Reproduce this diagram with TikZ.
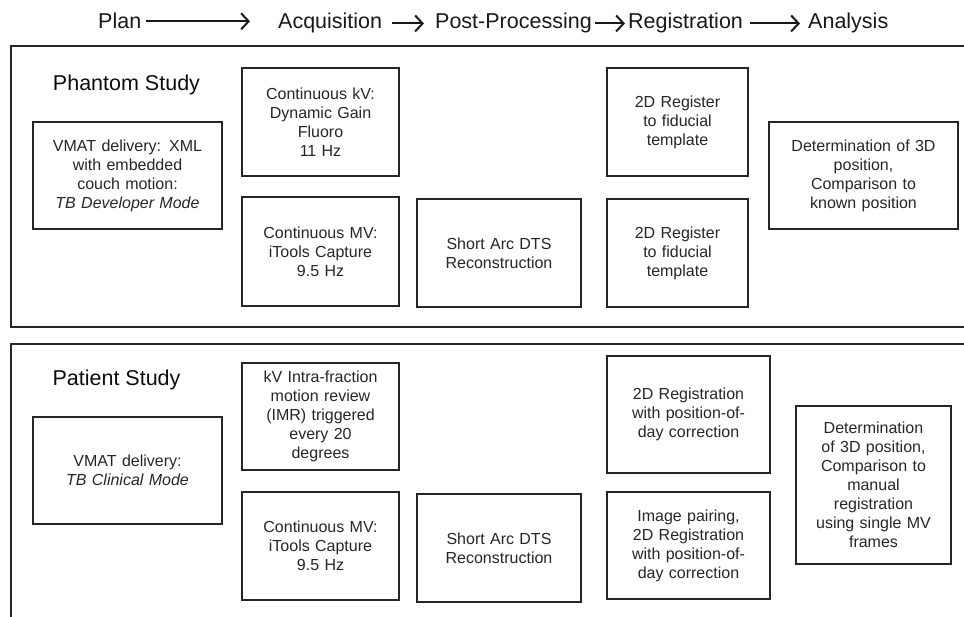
\documentclass[tikz,border=0pt]{standalone}
\usepackage{fontspec}
\setmainfont{Liberation Sans}
\usetikzlibrary{arrows.meta}
\begin{document}
\begin{tikzpicture}[x=1pt,y=-1pt,
  bx/.style={draw=black!85, line width=1.4pt, align=center, inner sep=2pt,
     text=black!85, font=\fontsize{16}{19}\selectfont},
  hdr/.style={anchor=base west, inner sep=0pt, text=black!90,
     font=\fontsize{21.5}{24}\selectfont},
  ttl/.style={inner sep=0pt, text=black!95, font=\fontsize{21.5}{24}\selectfont},
  outer/.style={draw=black!85, line width=2pt},
  harrow/.style={draw=black!90, line width=2pt, -{Straight Barb[length=7.5pt,width=16pt]}}
]
\useasboundingbox (0,0) rectangle (964,616);

% header
\node[hdr] (plan) at (98,28) {Plan};
\node[hdr] (acq) at (278,28) {Acquisition};
\node[hdr] (post) at (435,28) {Post-Processing};
\node[hdr] (reg) at (628,28) {Registration};
\node[hdr] (ana) at (808,28) {Analysis};
\draw[harrow, shorten <=5pt, shorten >=28pt] ([yshift=-1pt]plan.east) -- ([yshift=-1pt]plan.east -| acq.west);
\draw[harrow, shorten <=10pt, shorten >=11pt] ([yshift=-1pt]acq.east) -- ([yshift=-1pt]acq.east -| post.west);
\draw[harrow, shorten <=3pt, shorten >=3pt] ([yshift=-1pt]post.east) -- ([yshift=-1pt]post.east -| reg.west);
\draw[harrow, shorten <=7pt, shorten >=8pt] ([yshift=-1pt]reg.east) -- ([yshift=-1pt]reg.east -| ana.west);

% outer frames
\draw[outer] (11,46) rectangle (970,327);
\draw[outer] (11,344) rectangle (970,630);

% Phantom study
\node[ttl] (ptitle) at (126.5,85) {Phantom Study};
\node[bx, minimum width=189pt, minimum height=107pt, text width=180pt] (pplan) at (127.5,175.5)
  {VMAT delivery: XML\\ with embedded\\ couch motion:\\ \textit{TB Developer Mode}};
\node[bx, minimum width=157pt, minimum height=108pt, text width=150pt] (pkv) at (320.5,122)
  {Continuous kV:\\ Dynamic Gain\\ Fluoro\\ 11 Hz};
\node[bx, minimum width=157pt, minimum height=109pt, text width=150pt] (pmv) at (320.5,251.5)
  {Continuous MV:\\ iTools Capture\\ 9.5 Hz};
\node[bx, minimum width=164pt, minimum height=108pt, text width=156pt] (pdts) at (499,253)
  {Short Arc DTS\\ Reconstruction};
\node[bx, minimum width=141pt, minimum height=108pt, text width=134pt] (preg1) at (677.5,122)
  {2D Register\\ to fiducial\\ template};
\node[bx, minimum width=141pt, minimum height=108pt, text width=134pt] (preg2) at (677.5,253)
  {2D Register\\ to fiducial\\ template};
\node[bx, minimum width=189pt, minimum height=107pt, text width=180pt] (pana) at (863.5,175.5)
  {Determination of 3D\\ position,\\ Comparison to\\ known position};

% Patient study
\node[ttl] (qtitle) at (116.5,380) {Patient Study};
\node[bx, minimum width=189pt, minimum height=107pt, text width=180pt] (qplan) at (127.5,470.5)
  {VMAT delivery:\\ \textit{TB Clinical Mode}};
\node[bx, minimum width=157pt, minimum height=107pt, text width=150pt] (qkv) at (320.5,416.5)
  {kV Intra-fraction\\ motion review\\ (IMR) triggered\\ every 20\\ degrees};
\node[bx, minimum width=157pt, minimum height=108pt, text width=150pt] (qmv) at (320.5,546)
  {Continuous MV:\\ iTools Capture\\ 9.5 Hz};
\node[bx, minimum width=164pt, minimum height=108pt, text width=156pt] (qdts) at (499,548)
  {Short Arc DTS\\ Reconstruction};
\node[bx, minimum width=163pt, minimum height=117pt, text width=156pt] (qreg1) at (688.5,414.5)
  {2D Registration\\ with position-of-\\ day correction};
\node[bx, minimum width=163pt, minimum height=107pt, text width=156pt] (qreg2) at (688.5,545.5)
  {Image pairing,\\ 2D Registration\\ with position-of-\\ day correction};
\node[bx, minimum width=155pt, minimum height=158pt, text width=148pt] (qana) at (873.5,485)
  {Determination\\ of 3D position,\\ Comparison to\\ manual\\ registration\\ using single MV\\ frames};
\end{tikzpicture}
\end{document}
